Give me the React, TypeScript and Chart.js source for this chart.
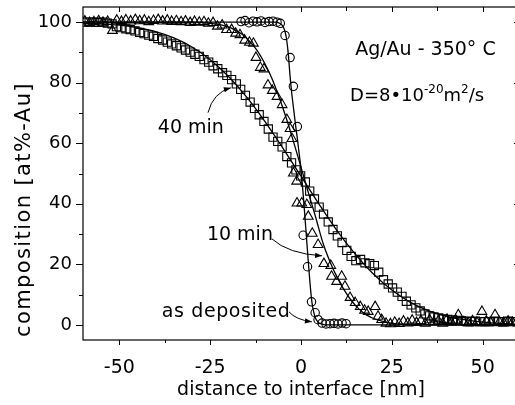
import React, { useEffect, useRef } from "react";
import { Chart, registerables } from "chart.js";

Chart.register(...registerables);

const FONT = '"DejaVu Sans", Verdana, sans-serif';

// axis settings
const xMajorTicks = [-50, -25, 0, 25, 50];
const xMinorTicks = [-37.5, -12.5, 12.5, 37.5];
const yMajorTicks = [0, 20, 40, 60, 80, 100];
const yMinorTicks = [10, 30, 50, 70, 90];

// "as deposited" – circles
const depX = [-16.5, -15.4, -14.3, -13.2, -12.1, -11.0, -9.9, -8.8, -7.7, -6.6, -5.7, -4.4, -3.0, -2.1, -1.0, 0.6, 1.8, 2.9, 3.9, 4.7, 5.8, 6.9, 8.0, 9.1, 10.2, 11.3, 12.4];
const depY = [100.2, 100.5, 99.8, 100.3, 100.1, 100.4, 99.9, 100.2, 100.3, 100.0, 99.6, 95.6, 88.3, 78.8, 65.5, 29.6, 19.2, 7.6, 4.0, 1.7, 0.6, 0.3, 0.4, 0.5, 0.3, 0.6, 0.4];

// "10 min" – triangles
const t10X = [-59.5, -58.2, -57.0, -55.7, -54.5, -53.2, -51.9, -50.7, -49.4, -48.2, -46.9, -45.6, -44.4, -43.1, -41.9, -40.6, -39.3, -38.1, -36.8, -35.6, -34.3, -33.0, -31.8, -30.5, -29.3, -28.0, -26.7, -25.5, -24.2, -23.0, -21.7, -20.5, -19.1, -18.0, -16.8, -15.5, -14.2, -13.1, -12.4, -11.2, -10.2, -9.1, -7.9, -6.6, -5.2, -3.9, -3.0, -2.5, -2.1, -1.2, -1.1, 0.2, 1.6, 2.0, 3.1, 4.7, 6.3, 8.2, 8.4, 9.8, 11.2, 12.1, 13.5, 14.9, 16.3, 17.5, 18.5, 20.4, 21.2, 22.2, 23.4, 24.6, 25.8, 27.0, 28.2, 29.4, 30.6, 31.8, 33.0, 34.2, 35.4, 36.6, 37.8, 39.0, 40.2, 41.4, 42.6, 43.3, 44.8, 46.0, 47.2, 48.4, 49.8, 51.0, 52.2, 53.4, 54.6, 55.8, 57.0, 58.2, 59.4];
const t10Y = [100.3, 99.8, 100.1, 100.4, 99.9, 100.2, 97.2, 100.6, 100.2, 100.7, 100.3, 100.8, 100.4, 100.6, 100.1, 100.5, 100.8, 100.3, 100.6, 100.2, 100.4, 100.1, 100.3, 99.8, 100.2, 99.9, 100.1, 99.6, 99.8, 98.6, 99.0, 97.5, 97.5, 96.3, 95.8, 94.0, 93.3, 93.0, 88.3, 85.0, 84.5, 79.2, 77.4, 75.4, 72.7, 67.8, 64.8, 61.5, 50.1, 47.4, 40.2, 40.2, 39.7, 35.8, 30.2, 26.5, 20.2, 19.6, 16.0, 14.3, 16.0, 12.7, 9.0, 7.3, 6.0, 4.8, 4.4, 6.0, 2.8, 1.7, 0.5, 0.3, 0.8, 0.4, 1.2, 0.6, 1.5, 0.7, 1.4, 0.5, 1.6, 0.9, 1.3, 0.5, 1.8, 0.8, 1.5, 3.3, 1.0, 0.6, 1.3, 0.8, 4.4, 1.2, 0.7, 3.3, 1.0, 0.6, 1.2, 0.8, 1.0];

// "40 min" – squares
const t40X = [-59.5, -58.3, -57.0, -55.8, -54.5, -53.3, -52.0, -50.8, -49.5, -48.2, -47.0, -45.7, -44.4, -43.2, -41.9, -40.6, -39.4, -38.1, -36.8, -35.6, -34.3, -33.0, -31.8, -30.5, -29.2, -28.0, -26.7, -25.4, -24.2, -22.9, -21.6, -20.4, -19.1, -17.8, -16.6, -15.3, -14.0, -12.8, -11.5, -10.2, -9.0, -7.7, -6.4, -5.2, -3.9, -2.6, -1.4, -0.1, 1.2, 2.4, 3.7, 5.0, 6.2, 7.5, 8.8, 10.0, 11.3, 12.6, 13.8, 15.1, 16.4, 17.6, 18.9, 20.2, 21.4, 22.7, 24.0, 25.2, 26.5, 27.8, 29.0, 30.3, 31.6, 32.8, 34.1, 35.4, 36.6, 37.9, 39.2, 40.4, 41.7, 43.0, 44.2, 45.5, 46.8, 48.0, 49.3, 50.6, 51.8, 53.1, 54.4, 55.6, 56.9, 58.2, 59.4];
const t40Y = [100, 100, 100, 99.9, 100, 99.7, 99.4, 98.5, 98.2, 97.8, 97.5, 97.1, 96.6, 96.2, 95.7, 95.3, 94.6, 94.1, 93.4, 92.8, 92.2, 91.5, 90.8, 90.1, 89.4, 88.7, 87.6, 86.8, 85.6, 84.6, 83.3, 82.4, 81.0, 79.6, 77.8, 75.8, 73.6, 71.5, 69.4, 67.2, 64.7, 62.0, 60.6, 58.8, 55.6, 53.5, 51.2, 49.2, 47.2, 44.2, 41.6, 38.9, 36.6, 34.0, 31.5, 29.4, 27.2, 24.6, 22.6, 21.2, 21.6, 20.5, 20.2, 19.6, 17.4, 14.9, 13.5, 12.2, 10.8, 9.4, 7.8, 6.6, 5.6, 4.6, 3.6, 3.0, 2.6, 2.3, 2.0, 1.8, 1.6, 1.5, 1.3, 1.2, 1.1, 1.2, 1.0, 1.1, 1.0, 1.2, 1.1, 1.0, 1.2, 1.1, 1.0];

// fitted curves
const fitDepX = [-60, -7, -6, -5.2, -4.5, -4, -3.5, -3, -2.5, -2, -1.5, -1, -0.5, 0, 0.5, 1, 1.5, 2, 2.5, 3, 3.5, 4, 4.5, 5, 6, 7, 60];
const fitDepY = [100, 100, 99.7, 99, 97.3, 94.6, 89.5, 82, 76, 71, 66, 61.5, 56.5, 51.5, 44.5, 37, 29, 21, 13.5, 7.5, 4.2, 2.2, 1.2, 0.6, 0.2, 0, 0];
const fit10X = [-60, -30, -25, -22, -20, -18, -16, -14, -12, -10, -8, -6, -4, -2, 0, 2, 4, 6, 8, 10, 12, 14, 16, 18, 20, 22, 25, 30, 60];
const fit10Y = [100, 100, 99.6, 99.1, 98.4, 97.3, 95.8, 93.5, 90.5, 86.4, 81.4, 75.1, 68.1, 60.3, 52.1, 43.8, 35.7, 27.2, 20.8, 15.6, 11.3, 7.8, 5.2, 3.3, 2.1, 1.3, 0.5, 0.1, 0];
const fit40X = [-60, -50, -45, -40, -35, -30, -25, -20, -15, -10, -5, 0, 5, 10, 15, 20, 25, 30, 35, 40, 45, 50, 55, 60];
const fit40Y = [99.7, 99.0, 98.2, 96.9, 94.8, 91.8, 87.6, 82.1, 75.3, 67.3, 58.4, 49.1, 39.8, 31, 23.3, 16.7, 11.5, 7.5, 4.7, 2.8, 1.7, 0.9, 0.45, 0.2];

const pts = (xs: number[], ys: number[]) => xs.map((x, i) => ({ x, y: ys[i] }));

const framePlugin = {
  id: "frameTicks",
  afterDraw(chart: any) {
    const { ctx, chartArea: a, scales } = chart;
    const x = scales.x, y = scales.y;
    ctx.save();
    ctx.strokeStyle = "#000";
    ctx.lineWidth = 1.2;
    ctx.strokeRect(a.left, a.top, a.right - a.left, a.bottom - a.top);
    ctx.lineWidth = 1;
    ctx.beginPath();
    for (const v of xMajorTicks) {
      const p = Math.round(x.getPixelForValue(v)) + 0.5;
      ctx.moveTo(p, a.bottom); ctx.lineTo(p, a.bottom + 5);
      ctx.moveTo(p, a.top); ctx.lineTo(p, a.top + 5);
    }
    for (const v of xMinorTicks) {
      const p = Math.round(x.getPixelForValue(v)) + 0.5;
      ctx.moveTo(p, a.bottom); ctx.lineTo(p, a.bottom + 3);
      ctx.moveTo(p, a.top); ctx.lineTo(p, a.top + 4);
    }
    for (const v of yMajorTicks) {
      const p = Math.round(y.getPixelForValue(v)) + 0.5;
      ctx.moveTo(a.left - 7, p); ctx.lineTo(a.left, p);
      ctx.moveTo(a.right - 5, p); ctx.lineTo(a.right, p);
    }
    for (const v of yMinorTicks) {
      const p = Math.round(y.getPixelForValue(v)) + 0.5;
      ctx.moveTo(a.left - 4, p); ctx.lineTo(a.left, p);
    }
    ctx.stroke();

    // y-axis title, drawn from the bottom of the axis upward
    ctx.translate(29.8, a.bottom - 3);
    ctx.rotate(-Math.PI / 2);
    ctx.fillStyle = "#000";
    ctx.font = `21px ${FONT}`;
    (ctx as any).letterSpacing = "1.4px";
    ctx.textAlign = "left";
    ctx.textBaseline = "alphabetic";
    ctx.fillText("composition [at%-Au]", 0, 0);
    ctx.restore();
  },
};

function arrow(ctx: any, x0: number, y0: number, cx: number, cy: number, x1: number, y1: number) {
  ctx.beginPath();
  ctx.moveTo(x0, y0);
  ctx.quadraticCurveTo(cx, cy, x1, y1);
  ctx.stroke();
  const ang = Math.atan2(y1 - cy, x1 - cx);
  const L = 7, W = 2.6;
  ctx.beginPath();
  ctx.moveTo(x1, y1);
  ctx.lineTo(x1 - L * Math.cos(ang) + W * Math.sin(ang), y1 - L * Math.sin(ang) - W * Math.cos(ang));
  ctx.lineTo(x1 - L * Math.cos(ang) - W * Math.sin(ang), y1 - L * Math.sin(ang) + W * Math.cos(ang));
  ctx.closePath();
  ctx.fill();
}

const annotationPlugin = {
  id: "annotations",
  afterDatasetsDraw(chart: any) {
    const { ctx, scales } = chart;
    const X = (v: number) => scales.x.getPixelForValue(v);
    const Y = (v: number) => scales.y.getPixelForValue(v);
    ctx.save();
    ctx.fillStyle = "#000";
    ctx.strokeStyle = "#000";
    ctx.lineWidth = 1;
    ctx.textBaseline = "alphabetic";
    ctx.textAlign = "left";
    const big = `19px ${FONT}`;
    const mid = `18px ${FONT}`;
    const small = `12px ${FONT}`;
    ctx.font = big;
    ctx.fillText("Ag/Au - 350° C", X(14.9), Y(89.3));
    // D=8•10^-20 m^2/s
    let px = X(13.5);
    const base = Y(73.9);
    const parts: [string, string, number][] = [
      ["D=8•10", mid, 0],
      ["-20", small, -8],
      ["m", mid, 0],
      ["2", small, -8],
      ["/s", mid, 0],
    ];
    for (const [t, f, dy] of parts) {
      ctx.font = f;
      ctx.fillText(t, px, base + dy);
      px += ctx.measureText(t).width;
    }
    ctx.font = big;
    ctx.fillText("40 min", X(-39.4), Y(63.5));
    ctx.fillText("10 min", X(-25.9), Y(28.1));
    (ctx as any).letterSpacing = "0.6px";
    ctx.fillText("as deposited", X(-38.3), Y(2.6));
    (ctx as any).letterSpacing = "0px";
    arrow(ctx, X(-25.6), Y(70.1), X(-24.2), Y(76.7), X(-19.3), Y(78.3));
    arrow(ctx, X(-8.0), Y(28.4), X(-3.6), Y(23.5), X(5.8), Y(22.8));
    arrow(ctx, X(-3.3), Y(4.3), X(-1.4), Y(1.7), X(3.0), Y(1.0));
    ctx.restore();
  },
};

export default function App() {
  const ref = useRef<HTMLCanvasElement>(null);
  useEffect(() => {
    const canvas = ref.current!;
    const markerBase = {
      showLine: false,
      borderColor: "#000",
      backgroundColor: "rgba(0,0,0,0)",
      pointBorderColor: "#000",
      pointBackgroundColor: "rgba(0,0,0,0)",
      pointBorderWidth: 1.1,
    };
    const lineBase = {
      showLine: true,
      borderColor: "#000",
      borderWidth: 1.3,
      pointRadius: 0,
      cubicInterpolationMode: "monotone" as const,
      fill: false,
    };
    const chart = new Chart(canvas, {
      type: "scatter",
      data: {
        datasets: [
          { ...lineBase, data: pts(fitDepX, fitDepY) },
          { ...lineBase, data: pts(fit10X, fit10Y) },
          { ...lineBase, data: pts(fit40X, fit40Y) },
          { ...markerBase, data: pts(t40X, t40Y), pointStyle: "rect", pointRadius: 5.8 },
          { ...markerBase, data: pts(t10X, t10Y), pointStyle: "triangle", pointRadius: 5.6 },
          { ...markerBase, data: pts(depX, depY), pointStyle: "circle", pointRadius: 4.2 },
        ] as any,
      },
      options: {
        animation: false,
        responsive: false,
        devicePixelRatio: 1,
        layout: { padding: { left: 0, right: 11, top: 7, bottom: 0 } },
        plugins: { legend: { display: false }, tooltip: { enabled: false } },
        scales: {
          x: {
            type: "linear",
            min: -60,
            max: 60,
            grid: { display: false, drawTicks: false },
            border: { display: false },
            afterBuildTicks: (s: any) => { s.ticks = xMajorTicks.map((v) => ({ value: v })); },
            afterFit: (s: any) => { s.height = 65; s.paddingLeft = 0; s.paddingRight = 0; },
            ticks: { color: "#000", padding: 17, maxRotation: 0, autoSkip: false, font: { family: FONT, size: 19 } },
            title: {
              display: true,
              text: "distance to interface [nm]",
              color: "#000",
              font: { family: FONT, size: 19 },
              padding: { top: 0, bottom: 3.7 },
            },
          },
          y: {
            type: "linear",
            min: -5,
            max: 105,
            grid: { display: false, drawTicks: false },
            border: { display: false },
            afterBuildTicks: (s: any) => { s.ticks = yMajorTicks.map((v) => ({ value: v })); },
            afterFit: (s: any) => { s.width = 83; s.paddingTop = 0; s.paddingBottom = 0; },
            ticks: { color: "#000", padding: 11, autoSkip: false, font: { family: FONT, size: 18 } },
            title: { display: false },
          },
        },
      } as any,
      plugins: [framePlugin, annotationPlugin],
    });
    return () => chart.destroy();
  }, []);
  return (
    <div style={{ position: "absolute", left: 0, top: 0, width: 515, height: 405, overflow: "hidden", background: "#fff" }}>
      <canvas ref={ref} width={530} height={405} style={{ display: "block", width: 530, height: 405 }} />
    </div>
  );
}
